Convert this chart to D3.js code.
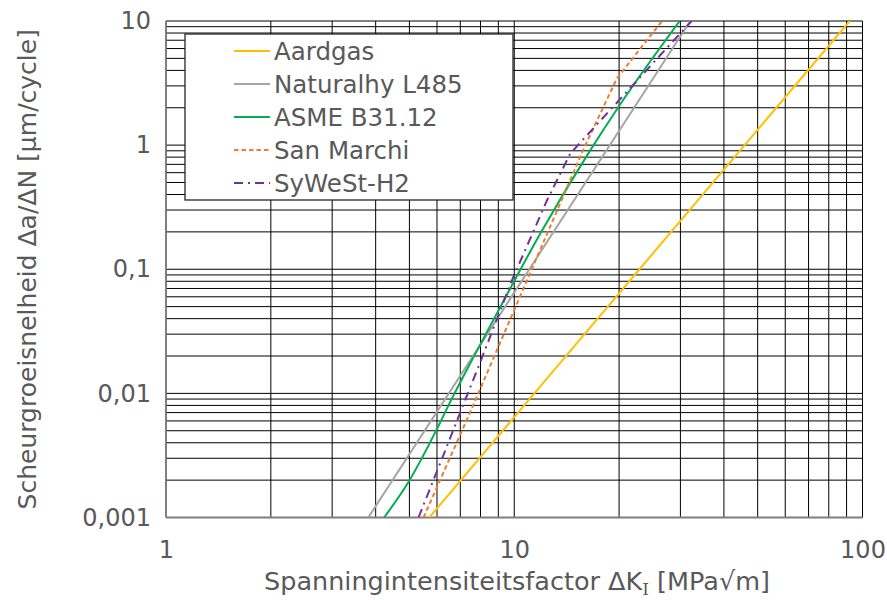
<!DOCTYPE html>
<html>
<head>
<meta charset="utf-8">
<script src="https://cdn.jsdelivr.net/npm/d3@7"></script>
<style>
  html, body { margin: 0; padding: 0; background: #fff; }
  svg { display: block; }
  text { font-family: Verdana, "DejaVu Sans", sans-serif; fill: #595959; }
</style>
</head>
<body>
<svg id="chart" width="887" height="600"></svg>
<script>
// ---- data ----
const seriesNames = ["Aardgas", "Naturalhy L485", "ASME B31.12", "San Marchi", "SyWeSt-H2"];
const seriesColors = ["#FFC000", "#A5A5A5", "#00B050", "#ED7D31", "#7030A0"];
const seriesDash = [null, null, null, "4.5,3", "9,5,2,5"];

// ΔK [MPa√m] and da/dN [µm/cycle]
const aardgasK = [5.70, 91.9];
const aardgasV = [0.001, 10];
const naturalhyK = [3.81, 32.04];
const naturalhyV = [0.001, 10];
const asmeK = [4.23, 5.00, 5.97, 6.58, 7.64, 9.12, 11.88, 16.54, 19.94, 29.86];
const asmeV = [0.001, 0.00199, 0.00503, 0.00878, 0.0196, 0.0497, 0.194, 0.912, 2.04, 10];
const sanMarchiK = [5.49, 7.51, 10.88, 15.82, 19.7, 26.57];
const sanMarchiV = [0.001, 0.00729, 0.0815, 0.93, 3.44, 10];
const sywestK = [5.31, 6.20, 7.07, 7.99, 9.85, 12.42, 13.6, 14.49, 32.3];
const sywestV = [0.001, 0.00297, 0.00753, 0.0179, 0.0815, 0.360, 0.60, 0.857, 10];

const xTickValues = [1, 10, 100];
const xTickLabels = ["1", "10", "100"];
const yTickValues = [0.001, 0.01, 0.1, 1, 10];
const yTickLabels = ["0,001", "0,01", "0,1", "1", "10"];

const xTitle = "Spanningintensiteitsfactor ΔK";
const xTitleSub = "I";
const xTitleEnd = " [MPa√m]";
const yTitle = "Scheurgroeisnelheid Δa/ΔN [µm/cycle]";

// ---- layout ----
const svg = d3.select("#chart");
const plot = { left: 166, right: 862.5, top: 21, bottom: 517.5 };

const x = d3.scaleLog().domain([1, 100]).range([plot.left, plot.right]);
const y = d3.scaleLog().domain([0.001, 10]).range([plot.bottom, plot.top]);

// grid
const grid = svg.append("g").attr("class", "grid");
grid.selectAll("line.v").data(x.ticks()).join("line")
  .attr("x1", d => x(d)).attr("x2", d => x(d))
  .attr("y1", plot.top).attr("y2", plot.bottom)
  .attr("stroke", "#000").attr("stroke-width", 1);
grid.selectAll("line.h").data(y.ticks()).join("line")
  .attr("x1", plot.left).attr("x2", plot.right)
  .attr("y1", d => y(d)).attr("y2", d => y(d))
  .attr("stroke", "#000").attr("stroke-width", 1);

// axis lines
svg.append("line").attr("x1", plot.left).attr("x2", plot.right)
  .attr("y1", plot.bottom).attr("y2", plot.bottom)
  .attr("stroke", "#7f7f7f").attr("stroke-width", 2);
svg.append("line").attr("x1", plot.left).attr("x2", plot.left)
  .attr("y1", plot.top).attr("y2", plot.bottom)
  .attr("stroke", "#7f7f7f").attr("stroke-width", 1.5);

// tick labels via d3 axes
const xAxis = d3.axisBottom(x).tickValues(xTickValues)
  .tickFormat((d, i) => xTickLabels[i]).tickSize(0).tickPadding(23);
const gx = svg.append("g").attr("transform", `translate(0,${plot.bottom})`).call(xAxis);
gx.select(".domain").remove();
gx.selectAll("text").style("font-size", "24px").attr("fill", "#595959")
  .style("font-family", 'Verdana, "DejaVu Sans", sans-serif');

const yAxis = d3.axisLeft(y).tickValues(yTickValues)
  .tickFormat((d, i) => yTickLabels[i]).tickSize(0).tickPadding(15);
const gy = svg.append("g").attr("transform", `translate(${plot.left},0)`).call(yAxis);
gy.select(".domain").remove();
gy.selectAll("text").style("font-size", "24px").attr("fill", "#595959")
  .style("font-family", 'Verdana, "DejaVu Sans", sans-serif');

// series
const seriesK = [aardgasK, naturalhyK, asmeK, sanMarchiK, sywestK];
const seriesV = [aardgasV, naturalhyV, asmeV, sanMarchiV, sywestV];
const seriesCurve = [d3.curveLinear, d3.curveLinear, d3.curveMonotoneX, d3.curveLinear, d3.curveLinear];

svg.append("clipPath").attr("id", "clip").append("rect")
  .attr("x", plot.left).attr("y", plot.top)
  .attr("width", plot.right - plot.left).attr("height", plot.bottom - plot.top);

const gLines = svg.append("g").attr("clip-path", "url(#clip)");
seriesNames.forEach((name, i) => {
  const pts = seriesK[i].map((k, j) => [k, seriesV[i][j]]);
  const line = d3.line().x(d => x(d[0])).y(d => y(d[1])).curve(seriesCurve[i]);
  gLines.append("path").datum(pts)
    .attr("d", line)
    .attr("fill", "none")
    .attr("stroke", seriesColors[i])
    .attr("stroke-width", 2)
    .attr("stroke-dasharray", seriesDash[i]);
});

// legend
const lg = svg.append("g");
lg.append("rect").attr("x", 185).attr("y", 34).attr("width", 328).attr("height", 166)
  .attr("fill", "#fff").attr("stroke", "#262626").attr("stroke-width", 1.3);
seriesNames.forEach((name, i) => {
  const cy = 51 + i * 33;
  lg.append("line").attr("x1", 234).attr("x2", 270).attr("y1", cy).attr("y2", cy)
    .attr("stroke", seriesColors[i]).attr("stroke-width", 2)
    .attr("stroke-dasharray", seriesDash[i]);
  lg.append("text").attr("x", 274).attr("y", cy).attr("dy", "0.36em")
    .style("font-size", "24.5px").text(name);
});

// axis titles
const xt = svg.append("text").attr("x", 517).attr("y", 590)
  .attr("text-anchor", "middle").style("font-size", "25.5px");
xt.append("tspan").text(xTitle);
xt.append("tspan").attr("dy", 5).style("font-size", "17px")
  .style("font-family", '"DejaVu Serif", serif').text(xTitleSub);
xt.append("tspan").attr("dy", -5).text(xTitleEnd);

svg.append("text")
  .attr("transform", `translate(36,${(plot.top + plot.bottom) / 2}) rotate(-90)`)
  .attr("text-anchor", "middle").style("font-size", "25px").text(yTitle);
</script>
</body>
</html>
